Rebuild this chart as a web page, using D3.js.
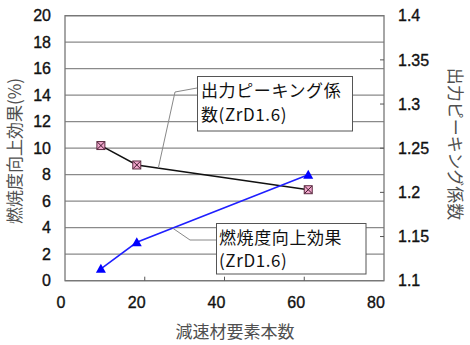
<!DOCTYPE html>
<html>
<head>
<meta charset="utf-8">
<script src="https://cdn.jsdelivr.net/npm/d3@7"></script>
<style>
  html, body { margin: 0; padding: 0; background: #fff; }
  svg { display: block; }
  .tick-label { font-family: "Liberation Sans", Arial, sans-serif; font-size: 16px; fill: #111; stroke: #111; stroke-width: 0.35px; }
  .axis-title { font-family: "Noto Sans CJK JP", sans-serif; font-size: 17px; fill: #505050; font-weight: 400; }
  .note { font-family: "Noto Sans CJK JP", sans-serif; font-size: 17px; fill: #111; letter-spacing: 0.6px; }
</style>
</head>
<body>
<script>
// Number of moderator elements (x) for each case
const elementCounts = [9, 18, 61];
// Burnup improvement effect (%), left axis
const burnupGain = [0.9, 2.9, 8.0];
// Power peaking factor, right axis
const peakingFactor = [1.253, 1.231, 1.203];

const xTicks = [0, 20, 40, 60, 80];
const leftTicks = [0, 2, 4, 6, 8, 10, 12, 14, 16, 18, 20];
const rightTicks = [1.1, 1.15, 1.2, 1.25, 1.3, 1.35, 1.4];

const W = 470, H = 345;
const plot = { left: 65, right: 384, top: 15.7, bottom: 280.7 };

const svg = d3.select("body").append("svg").attr("width", W).attr("height", H);

const x = d3.scaleLinear().domain([0, 80]).range([plot.left, plot.right]);
const yL = d3.scaleLinear().domain([0, 20]).range([plot.bottom, plot.top]);
const yR = d3.scaleLinear().domain([1.1, 1.4]).range([plot.bottom, plot.top]);

// Horizontal gridlines
svg.append("g").selectAll("line").data(leftTicks).join("line")
  .attr("x1", plot.left).attr("x2", plot.right)
  .attr("y1", d => yL(d)).attr("y2", d => yL(d))
  .attr("stroke", "#8a8a8a").attr("stroke-width", 1.3);

// Plot frame
svg.append("rect")
  .attr("x", plot.left).attr("y", plot.top)
  .attr("width", plot.right - plot.left).attr("height", plot.bottom - plot.top)
  .attr("fill", "none").attr("stroke", "#777").attr("stroke-width", 1.3);

// Inward ticks on bottom axis
svg.append("g").selectAll("line").data(xTicks.slice(1, -1)).join("line")
  .attr("x1", d => x(d)).attr("x2", d => x(d))
  .attr("y1", plot.bottom).attr("y2", plot.bottom - 4)
  .attr("stroke", "#555").attr("stroke-width", 1);

// Inward ticks on right axis
svg.append("g").selectAll("line").data(rightTicks.slice(1, -1)).join("line")
  .attr("x1", plot.right).attr("x2", plot.right - 4)
  .attr("y1", d => yR(d)).attr("y2", d => yR(d))
  .attr("stroke", "#555").attr("stroke-width", 1);

// Left tick labels
svg.append("g").selectAll("text").data(leftTicks).join("text")
  .attr("class", "tick-label")
  .attr("x", plot.left - 14).attr("y", d => yL(d))
  .attr("dy", "0.36em").attr("text-anchor", "end")
  .text(d => d);

// Right tick labels
svg.append("g").selectAll("text").data(rightTicks).join("text")
  .attr("class", "tick-label")
  .attr("x", plot.right + 14).attr("y", d => yR(d))
  .attr("dy", "0.36em").attr("text-anchor", "start")
  .text(d => d);

// Bottom tick labels
svg.append("g").selectAll("text").data(xTicks).join("text")
  .attr("class", "tick-label")
  .attr("x", d => x(d) - (d === 0 ? 4 : 8)).attr("y", 302)
  .attr("dy", "0.36em").attr("text-anchor", "middle")
  .text(d => d);

// Axis titles
svg.append("text").attr("class", "axis-title")
  .attr("x", 235).attr("y", 332).attr("dy", "0.36em")
  .attr("text-anchor", "middle").text("減速材要素本数");

svg.append("text").attr("class", "axis-title")
  .attr("transform", "translate(15,151) rotate(-90)")
  .attr("dy", "0.36em").attr("text-anchor", "middle")
  .text("燃焼度向上効果(%)");

svg.append("text").attr("class", "axis-title")
  .attr("transform", "translate(455,144) rotate(90)")
  .attr("dy", "0.36em").attr("text-anchor", "middle")
  .text("出力ピーキング係数");

const peak = elementCounts.map((n, i) => [n, peakingFactor[i]]);
const burn = elementCounts.map((n, i) => [n, burnupGain[i]]);

// Peaking factor series
svg.append("path").datum(peak)
  .attr("d", d3.line().x(d => x(d[0])).y(d => yR(d[1])))
  .attr("fill", "none").attr("stroke", "#111").attr("stroke-width", 1.5);

const pm = svg.append("g").selectAll("g").data(peak).join("g")
  .attr("transform", d => `translate(${x(d[0])},${yR(d[1])})`);
pm.append("rect").attr("x", -4).attr("y", -4).attr("width", 8).attr("height", 8)
  .attr("fill", "#f2a6cc").attr("stroke", "#5a2a40").attr("stroke-width", 1);
pm.append("path").attr("d", "M-3.5,-3.5L3.5,3.5M-3.5,3.5L3.5,-3.5")
  .attr("stroke", "#3a1a2a").attr("stroke-width", 1);

// Burnup gain series
svg.append("path").datum(burn)
  .attr("d", d3.line().x(d => x(d[0])).y(d => yL(d[1])))
  .attr("fill", "none").attr("stroke", "#1f1fff").attr("stroke-width", 1.5);

svg.append("g").selectAll("path").data(burn).join("path")
  .attr("transform", d => `translate(${x(d[0])},${yL(d[1])})`)
  .attr("d", "M0,-5L5,4L-5,4Z")
  .attr("fill", "#0000ff");

// Callout for the peaking factor line
const peakX = 23.4;
const peakPt = [x(peakX), yR(peakingFactor[1] + (peakingFactor[2] - peakingFactor[1]) * (peakX - elementCounts[1]) / (elementCounts[2] - elementCounts[1]))];
svg.append("path")
  .attr("d", `M197,88L175,92L${peakPt[0]},${peakPt[1]}`)
  .attr("fill", "none").attr("stroke", "#888").attr("stroke-width", 1);
svg.append("rect").attr("x", 197.5).attr("y", 76.5).attr("width", 155).attr("height", 54.5)
  .attr("fill", "#fff").attr("stroke", "#555").attr("stroke-width", 1);
const t1 = svg.append("text").attr("class", "note");
t1.append("tspan").attr("x", 201).attr("y", 97).text("出力ピーキング係");
t1.append("tspan").attr("x", 201).attr("y", 121).text("数(ZrD1.6)");

// Callout for the burnup gain line
const burnX = 27;
const burnPt = [x(burnX), yL(burnupGain[1] + (burnupGain[2] - burnupGain[1]) * (burnX - elementCounts[1]) / (elementCounts[2] - elementCounts[1]))];
svg.append("path")
  .attr("d", `M${burnPt[0]},${burnPt[1]}L190,240L217,240`)
  .attr("fill", "none").attr("stroke", "#888").attr("stroke-width", 1);
svg.append("rect").attr("x", 216.5).attr("y", 223.5).attr("width", 149.5).attr("height", 50.5)
  .attr("fill", "#fff").attr("stroke", "#555").attr("stroke-width", 1);
const t2 = svg.append("text").attr("class", "note");
t2.append("tspan").attr("x", 219).attr("y", 244).text("燃焼度向上効果");
t2.append("tspan").attr("x", 219).attr("y", 267).text("(ZrD1.6)");
</script>
</body>
</html>
